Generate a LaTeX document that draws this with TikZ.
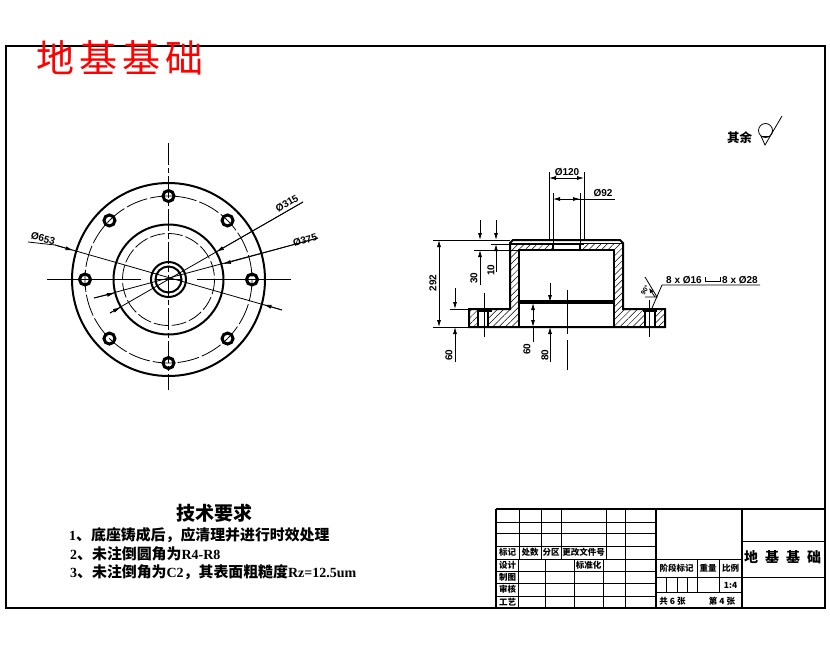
\documentclass[tikz,border=0pt]{standalone}
\usepackage{fontspec}
\setmainfont{Liberation Sans}
\newfontfamily\cjk{Noto Sans CJK SC}
\newfontfamily\notelatin{Liberation Serif}
\newcommand{\nl}[1]{{\notelatin\bfseries\fontsize{14}{15}\selectfont #1}}
\newcommand{\fw}{\symbol{"FF0C}}
\usetikzlibrary{patterns.meta,arrows.meta}

\tikzset{
  frameline/.style={line width=2.6pt},
  thickline/.style={line width=2pt},
  thinline/.style={line width=0.8pt},
  centerline/.style={line width=0.8pt, dash pattern=on 22pt off 3pt on 5pt off 3pt},
  dimline/.style={line width=0.8pt},
  dimarrow/.style={dimline, {Latex[length=7pt,width=4pt]}-{Latex[length=7pt,width=4pt]}},
  dimtext/.style={font=\bfseries\fontsize{10}{10}\selectfont, inner sep=0pt},
  hatched/.style={pattern={Lines[angle=45,distance=4.5pt,line width=0.5pt]}},
  cell/.style={font=\cjk\bfseries\fontsize{8.5}{9}\selectfont, inner sep=0pt},
  note/.style={font=\cjk\bfseries\fontsize{14.9}{15}\selectfont, inner sep=0pt, anchor=west},
}

\begin{document}
\begin{tikzpicture}[x=1pt, y=-1pt]
  \useasboundingbox (0,0) rectangle (830,654);
  \fill[white] (0,0) rectangle (830,654);

  % frame
  \draw[frameline] (6,46) rectangle (825,608);
  \node[text=red, font=\cjk\fontsize{38}{38}\selectfont, inner sep=0pt] (title) at (120,58) {地\kern5pt 基\kern5pt 基\kern5pt 础};

  % top view
  \coordinate (C) at (168.5,279.5);
  \draw[thickline] (C) circle (96.5);
  \draw[thickline] (C) circle (55);
  \draw[thickline] (C) circle (17.5);
  \draw[thickline] (C) circle (13);
  \draw[thinline, dash pattern=on 22pt off 3pt] (C) circle (83.5);
  \draw[thinline, dash pattern=on 15pt off 3pt] (C) circle (46);
  \foreach \a in {0,45,...,315} {
    \draw[line width=3pt] (C) ++(\a:83.5) circle (5.5);
  }
  \draw[centerline] (168,143) -- (168,390);
  \draw[thinline] (47,279) -- (141,279);
  \draw[thinline] (197,279) -- (291,279);
  \draw[thinline] (156,279) -- (181,279);

  % leaders of the top view
  \coordinate (L653a) at (55,245);
  \coordinate (L653b) at (282,310);
  \coordinate (L315a) at (303,202);
  \coordinate (L315b) at (110,313);
  \coordinate (L375a) at (318,238);
  \coordinate (L375b) at (94,298);
  \draw[dimline] (28,242) -- (L653a) -- (L653b);
  \draw[dimline] (L315a) -- (L315b);
  \draw[dimline] (L375a) -- (L375b);
  \draw[dimline, -{Latex[length=8pt,width=4pt]}] (L653a) -- (73.5,250.5);
  \draw[dimline, -{Latex[length=8pt,width=4pt]}] (L653b) -- (263.5,304.5);
  \draw[dimline, -{Latex[length=8pt,width=4pt]}] (L315a) -- (216,252);
  \draw[dimline, -{Latex[length=8pt,width=4pt]}] (L315b) -- (121,307);
  \draw[dimline, -{Latex[length=8pt,width=4pt]}] (L375a) -- (223,264);
  \draw[dimline, -{Latex[length=8pt,width=4pt]}] (L375b) -- (115,293);
  \node[dimtext, rotate=-15] (d653) at (43,238.5) {Ø653};
  \node[dimtext, rotate=30] (d315) at (287,203.5) {Ø315};
  \node[dimtext, rotate=15] (d375) at (305,240) {Ø375};

  % hatching of the section
  \fill[hatched] (510,244) -- (553,244) -- (553,250) -- (519,250) -- (519,309) -- (510,309) -- cycle;
  \fill[hatched] (623,244) -- (580,244) -- (580,250) -- (614,250) -- (614,309) -- (623,309) -- cycle;
  \fill[hatched] (469,309) rectangle (478,327);
  \fill[hatched] (488,309) rectangle (519,327);
  \fill[hatched] (614,309) rectangle (645,327);
  \fill[hatched] (655,309) rectangle (665,327);

  % section outline
  \draw[thickline] (469,327) -- (469,309) -- (510,309) -- (510,243) -- (513,240) -- (620,240) -- (623,243) -- (623,309) -- (665,309) -- (665,327) -- cycle;
  \draw[thickline] (519,327) -- (519,250) -- (614,250) -- (614,327);
  \draw[thinline] (510,243.5) -- (623,243.5);
  \draw[thickline] (549,244) -- (584,244);
  \draw[thickline] (553,244) -- (553,250);
  \draw[thickline] (580,244) -- (580,250);
  \draw[line width=3.5pt] (519,302) -- (614,302);
  \draw[thickline] (478,309) -- (478,327) (488,309) -- (488,327);
  \draw[thickline] (645,309) -- (645,327) (655,309) -- (655,327);
  \draw[line width=2.8pt] (477,310.5) -- (492,310.5);
  \draw[line width=2.8pt] (643,310.5) -- (657,310.5);

  % center lines of the section
  \draw[thinline, dash pattern=on 44pt off 6pt] (567,290) -- (567,370);
  \draw[thinline] (484,293) -- (484,337);
  \draw[thinline] (649,300) -- (649,337);

  % extension lines
  \draw[thinline] (433,240) -- (510,240);
  \draw[thinline] (433,327) -- (469,327);
  \draw[thinline] (474,250) -- (519,250);
  \draw[thinline] (491,244) -- (549,244);
  \draw[thinline] (450,309) -- (469,309);
  \draw[thinline] (549,172) -- (549,240);
  \draw[thinline] (584,172) -- (584,240);
  \draw[thinline] (553,193) -- (553,244);
  \draw[thinline] (580,193) -- (580,244);

  % dimensions of the section
  \draw[dimarrow] (439,240) -- (439,327);
  \draw[dimline, -{Latex[length=7pt,width=4pt]}] (480,220) -- (480,240);
  \draw[dimline, -{Latex[length=7pt,width=4pt]}] (480,285) -- (480,250);
  \draw[dimline, -{Latex[length=7pt,width=4pt]}] (496,220) -- (496,240);
  \draw[dimline, -{Latex[length=7pt,width=4pt]}] (496,272) -- (496,244);
  \draw[dimline, -{Latex[length=7pt,width=4pt]}] (455,288) -- (455,309);
  \draw[dimline, -{Latex[length=7pt,width=4pt]}] (455,362) -- (455,327);
  \draw[dimarrow] (533,303) -- (533,327);
  \draw[dimline] (533,327) -- (533,342);
  \draw[dimline, -{Latex[length=7pt,width=4pt]}] (550,283) -- (550,302);
  \draw[dimline, -{Latex[length=7pt,width=4pt]}] (550,362) -- (550,327);
  \draw[dimarrow] (549,178) -- (584,178);
  \draw[dimline, {Latex[length=7pt,width=4pt]}-] (553,199) -- (615,199);
  \draw[dimline, -{Latex[length=7pt,width=4pt]}] (570,199) -- (580,199);
  \node[dimtext] (d120) at (567,172) {Ø120};
  \node[dimtext] (d92) at (603,193) {Ø92};
  \node[dimtext, rotate=90] (d292) at (433,283) {292};
  \node[dimtext, rotate=90] (d30) at (474,278) {30};
  \node[dimtext, rotate=90] (d10) at (491,270) {10};
  \node[dimtext, rotate=90] (d60a) at (449,355) {60};
  \node[dimtext, rotate=90] (d60b) at (527,349) {60};
  \node[dimtext, rotate=90] (d80) at (545,355) {80};

  % hole callout
  \coordinate (H1) at (652,308);
  \coordinate (H2) at (662,285);
  \draw[dimline] (H1) -- (H2) -- (760,285);
  \draw[thinline] (645,277) -- (657,297) -- (645,297);
  \draw[dimline, -{Latex[length=5pt,width=4pt]}] (655,297) -- (649,288);
  \node[dimtext, rotate=60, font=\bfseries\fontsize{6.5}{7}\selectfont] (ang) at (645,290) {90°};
  \node[dimtext, anchor=west] (hole) at (666,280.5) {8 x Ø16};
  \node[dimtext, anchor=west] (cbore) at (722,280.5) {8 x Ø28};
  \draw[thinline] (705,277) -- (705,281.5) -- (720,281.5) -- (720,277);

  % roughness
  \node[font=\cjk\bfseries\fontsize{12.5}{13}\selectfont, inner sep=0pt] (other) at (739.5,138) {其余};
  \draw[thinline] (765.5,130.5) circle (7);
  \draw[thinline] (761,136) -- (765,145) -- (782,116);
  \draw[thinline] (761,136) -- (770,136);

  % notes
  \node[font=\cjk\bfseries\fontsize{19}{20}\selectfont, inner sep=0pt] (req) at (214.5,513.5) {技术要求};
  \node[note] (n1) at (69,535) {\nl{1}、底座铸成后\fw{}应清理并进行时效处理};
  \node[note] (n2) at (70,554) {\nl{2}、未注倒圆角为\nl{R4-R8}};
  \node[note] (n3) at (70,572.5) {\nl{3}、未注倒角为\nl{C2}\fw{}其表面粗糙度\nl{Rz=12.5um}};

  % title block
  \draw[frameline] (496,509) -- (825,509);
  \draw[frameline] (496,509) -- (496,608);
  \foreach \y in {522,533,546,559,571,583,596} \draw[thinline] (496,\y) -- (656,\y);
  \foreach \x in {519,541,561,606} \draw[thinline] (\x,509) -- (\x,559);
  \foreach \x in {518,545,574,603} \draw[thinline] (\x,559) -- (\x,608);
  \draw[thinline] (625,509) -- (625,608);
  \draw[thickline] (656,509) -- (656,608);
  \draw[thinline] (656,559) -- (742,559);
  \draw[thinline] (656,577) -- (825,577);
  \draw[thinline] (656,592) -- (742,592);
  \draw[thickline] (742,509) -- (742,608);
  \draw[thinline] (742,541) -- (825,541);
  \foreach \x in {697,719} \draw[thinline] (\x,559) -- (\x,592);
  \foreach \x in {666,677,687} \draw[thinline] (\x,577) -- (\x,592);

  \node[cell] (t1) at (507.5,552.5) {标记};
  \node[cell] (t2) at (530,552.5) {处数};
  \node[cell] (t3) at (551,552.5) {分区};
  \node[cell] (t4) at (583.5,552.5) {更改文件号};
  \node[cell] (t5) at (588.5,565) {标准化};
  \node[cell] (t6) at (507.5,565) {设计};
  \node[cell] (t7) at (507.5,577) {制图};
  \node[cell] (t8) at (507.5,589.5) {审核};
  \node[cell] (t9) at (507.5,602) {工艺};
  \node[cell] (t10) at (676.5,568) {阶段标记};
  \node[cell] (t11) at (708,568) {重量};
  \node[cell] (t12) at (730.5,568) {比例};
  \node[cell] (t13) at (730.5,585) {1:4};
  \node[cell] (t14) at (672.5,601) {共 6 张};
  \node[cell] (t15) at (722,601) {第 4 张};
  \node[font=\cjk\bfseries\fontsize{14}{14}\selectfont, inner sep=0pt] (name) at (782.5,557) {地\kern7pt 基\kern7pt 基\kern7pt 础};
\end{tikzpicture}
\end{document}
